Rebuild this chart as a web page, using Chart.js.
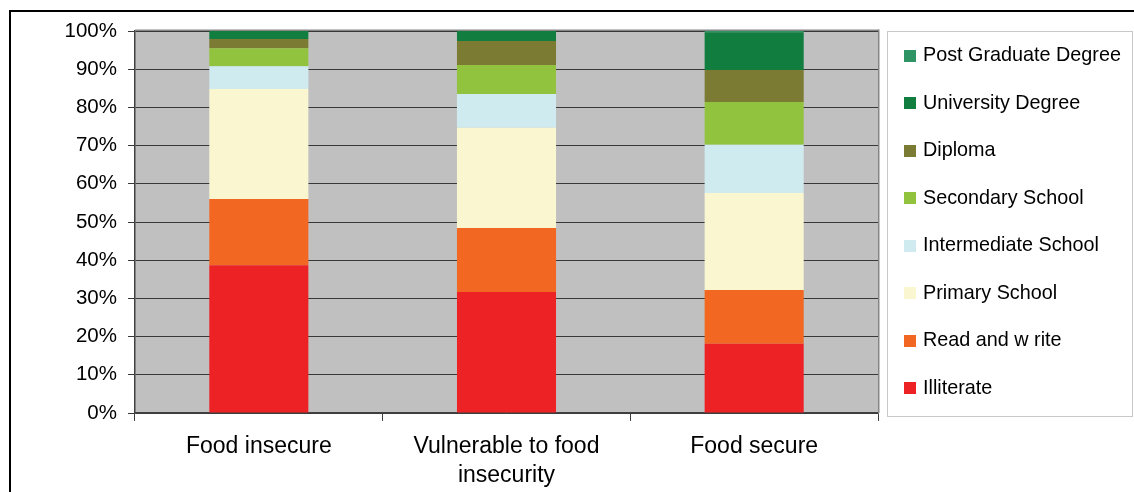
<!DOCTYPE html>
<html>
<head>
<meta charset="utf-8">
<script src="https://cdn.jsdelivr.net/npm/chart.js@4"></script>
<style>
  html, body { margin: 0; padding: 0; background: #ffffff; }
  canvas { display: block; }
</style>
</head>
<body>
<canvas id="c" width="1134" height="492"></canvas>
<script>
// ---- data (percent of households by education level) ----
const categories = ['Food insecure', ['Vulnerable to food', 'insecurity'], 'Food secure'];
const illiterate     = [38.7, 31.7, 18.1];
const readAndWrite   = [17.3, 16.7, 14.1];
const primary        = [28.8, 26.3, 25.4];
const intermediate   = [6.0, 8.8, 12.6];
const secondary      = [4.7, 7.6, 11.2];
const diploma        = [2.4, 6.3, 8.4];
const university     = [2.1, 2.6, 9.9];
const postGraduate   = [0.0, 0.0, 0.3];
const yTicks = [0, 10, 20, 30, 40, 50, 60, 70, 80, 90, 100];

const seriesNames = ['Illiterate', 'Read and w rite', 'Primary School', 'Intermediate School',
                     'Secondary School', 'Diploma', 'University Degree', 'Post Graduate Degree'];
const seriesValues = [illiterate, readAndWrite, primary, intermediate, secondary, diploma, university, postGraduate];
const seriesColors = ['#ED2224', '#F26722', '#FAF7D0', '#CFEBF0', '#92C33E', '#7B7B33', '#117D3F', '#2E9464'];

const FONT = "'Liberation Sans', Arial, sans-serif";

const framePlugin = {
  id: 'frame',
  beforeDraw(chart) {
    const ctx = chart.ctx, a = chart.chartArea;
    ctx.save();
    ctx.fillStyle = '#ffffff';
    ctx.fillRect(0, 0, chart.width, chart.height);
    // outer black frame (left & top visible)
    ctx.fillStyle = '#000000';
    ctx.fillRect(9, 10, 2, chart.height);
    ctx.fillRect(9, 10, chart.width, 2);
    // plot area background
    ctx.fillStyle = '#C0C0C0';
    ctx.fillRect(a.left, a.top, a.right - a.left, a.bottom - a.top);
    ctx.restore();
  },
  afterDatasetsDraw(chart) {
    const ctx = chart.ctx, a = chart.chartArea;
    ctx.save();
    ctx.fillStyle = '#858585';
    ctx.fillRect(a.left, a.top - 1.5, a.right - a.left + 1, 1.5);
    ctx.fillRect(a.right, a.top - 1.5, 1.5, a.bottom - a.top + 1.5);
    ctx.restore();
  },
  afterDraw(chart) {
    const ctx = chart.ctx;
    ctx.save();
    // legend box
    ctx.strokeStyle = '#C8C8C8';
    ctx.lineWidth = 1;
    ctx.strokeRect(887.5, 31.5, 245, 385);
    const ds = chart.data.datasets;
    ctx.font = '19.8px ' + FONT;
    ctx.textBaseline = 'middle';
    ctx.textAlign = 'left';
    for (let i = 0; i < ds.length; i++) {
      const d = ds[ds.length - 1 - i];
      const cy = 56 + i * 47.45;
      ctx.fillStyle = d.backgroundColor;
      ctx.fillRect(904, Math.round(cy - 6), 12, 12);
      ctx.fillStyle = '#000000';
      ctx.fillText(d.label, 923, cy);
    }
    ctx.restore();
  }
};

const datasets = seriesNames.map((name, i) => ({
  label: name,
  data: seriesValues[i],
  backgroundColor: seriesColors[i],
  borderWidth: 0,
  categoryPercentage: 1.0,
  barPercentage: 0.4
}));

new Chart(document.getElementById('c'), {
  type: 'bar',
  data: { labels: categories, datasets: datasets },
  plugins: [framePlugin],
  options: {
    responsive: false,
    animation: false,
    devicePixelRatio: 1,
    layout: { padding: { top: 31, right: 256, left: 0, bottom: 0 } },
    plugins: { legend: { display: false }, tooltip: { enabled: false } },
    scales: {
      x: {
        stacked: true,
        grid: { offset: true, drawOnChartArea: false, drawTicks: true, tickLength: 8, color: '#404040' },
        border: { display: true, color: '#404040', width: 1.5 },
        ticks: { color: '#000000', padding: 11, font: { family: FONT, size: 23, lineHeight: 1.27 }, maxRotation: 0 },
        afterFit(s) { s.height = 79; }
      },
      y: {
        stacked: true,
        min: 0, max: 100,
        afterBuildTicks(s) { s.ticks = yTicks.map(v => ({ value: v })); },
        grid: { color: '#383838', lineWidth: 1, tickLength: 7, drawTicks: true },
        border: { display: true, color: '#404040', width: 1.5 },
        ticks: { color: '#000000', padding: 11, font: { family: FONT, size: 20.5 }, callback: v => v + '%' },
        afterFit(s) { s.width = 135; }
      }
    }
  }
});
</script>
</body>
</html>
